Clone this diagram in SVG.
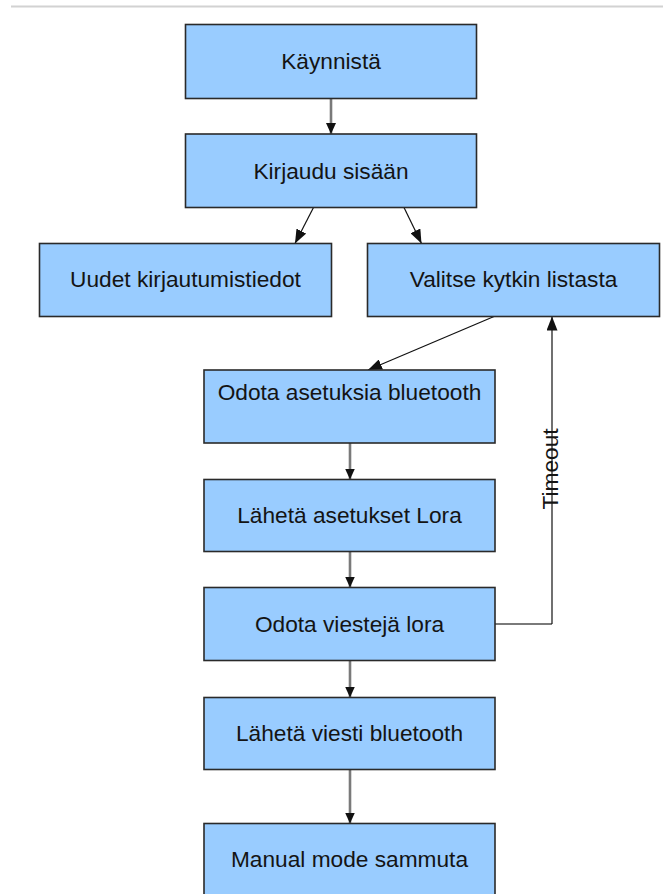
<svg xmlns="http://www.w3.org/2000/svg" width="663" height="894" viewBox="0 0 663 894">
<style>
.box{fill:#99ccff;stroke:#2a2a2a;stroke-width:1.6}
.lbl{font-family:"Liberation Sans",Arial,sans-serif;font-size:22.7px;fill:#141414;text-anchor:middle}
.thick{fill:none;stroke:#7a7a7a;stroke-width:2.6}
.thin{fill:none;stroke:#111;stroke-width:1.2}
</style>
<defs>
<marker id="ah" markerUnits="userSpaceOnUse" markerWidth="11" markerHeight="10" refX="11" refY="5" orient="auto" viewBox="0 0 11 10">
<path d="M0,0 L11,5 L0,10 z" fill="#111"/>
</marker>
<marker id="ahl" markerUnits="userSpaceOnUse" markerWidth="14" markerHeight="11" refX="14" refY="5.5" orient="auto" viewBox="0 0 14 11">
<path d="M0,0 L14,5.5 L0,11 z" fill="#111"/>
</marker>
</defs>
<rect width="663" height="894" fill="#ffffff"/>
<line x1="11" y1="6.5" x2="663" y2="6.5" stroke="#d2d2d2" stroke-width="2"/>
<g id="connectors">
<path class="thick" d="M331 98.5 L331 134" marker-end="url(#ah)"/>
<path class="thin" d="M313.5 207.5 L295 243.5" marker-end="url(#ahl)"/>
<path class="thin" d="M404 207.5 L421.5 243.5" marker-end="url(#ahl)"/>
<path class="thin" d="M494 316.5 L368 370" marker-end="url(#ahl)"/>
<path class="thick" d="M350 443 L350 479.5" marker-end="url(#ah)"/>
<path class="thick" d="M350 551.5 L350 587.5" marker-end="url(#ah)"/>
<path class="thick" d="M350 660.5 L350 697.5" marker-end="url(#ah)"/>
<path class="thick" d="M350 769.5 L350 823.5" marker-end="url(#ah)"/>
<path fill="none" stroke="#7a7a7a" stroke-width="2" d="M495 624 L552 624"/>
<path class="thin" d="M552 624 L552 316.5" marker-end="url(#ahl)"/>
<text class="lbl" transform="translate(558,469) rotate(-90)" x="0" y="0">Timeout</text>
</g>
<g id="n1"><rect class="box" x="185.5" y="24.5" width="291" height="74"/><text class="lbl" x="331" y="69">Käynnistä</text></g>
<g id="n2"><rect class="box" x="185.5" y="134" width="291" height="73.5"/><text class="lbl" x="331" y="178.5">Kirjaudu sisään</text></g>
<g id="n3"><rect class="box" x="39.5" y="243.5" width="292" height="73"/><text class="lbl" x="185.5" y="286.5">Uudet kirjautumistiedot</text></g>
<g id="n4"><rect class="box" x="367.5" y="243.5" width="292" height="73"/><text class="lbl" x="513.5" y="286.5">Valitse kytkin listasta</text></g>
<g id="n5"><rect class="box" x="204" y="370" width="291" height="73"/><text class="lbl" x="349.5" y="400">Odota asetuksia bluetooth</text></g>
<g id="n6"><rect class="box" x="204" y="479.5" width="291" height="72"/><text class="lbl" x="349.5" y="523">Lähetä asetukset Lora</text></g>
<g id="n7"><rect class="box" x="204" y="587.5" width="291" height="73"/><text class="lbl" x="349.5" y="631.5">Odota viestejä lora</text></g>
<g id="n8"><rect class="box" x="204" y="697.5" width="291" height="72"/><text class="lbl" x="349.5" y="741">Lähetä viesti bluetooth</text></g>
<g id="n9"><rect class="box" x="204" y="823.5" width="291" height="73"/><text class="lbl" x="349.5" y="867">Manual mode sammuta</text></g>
</svg>
